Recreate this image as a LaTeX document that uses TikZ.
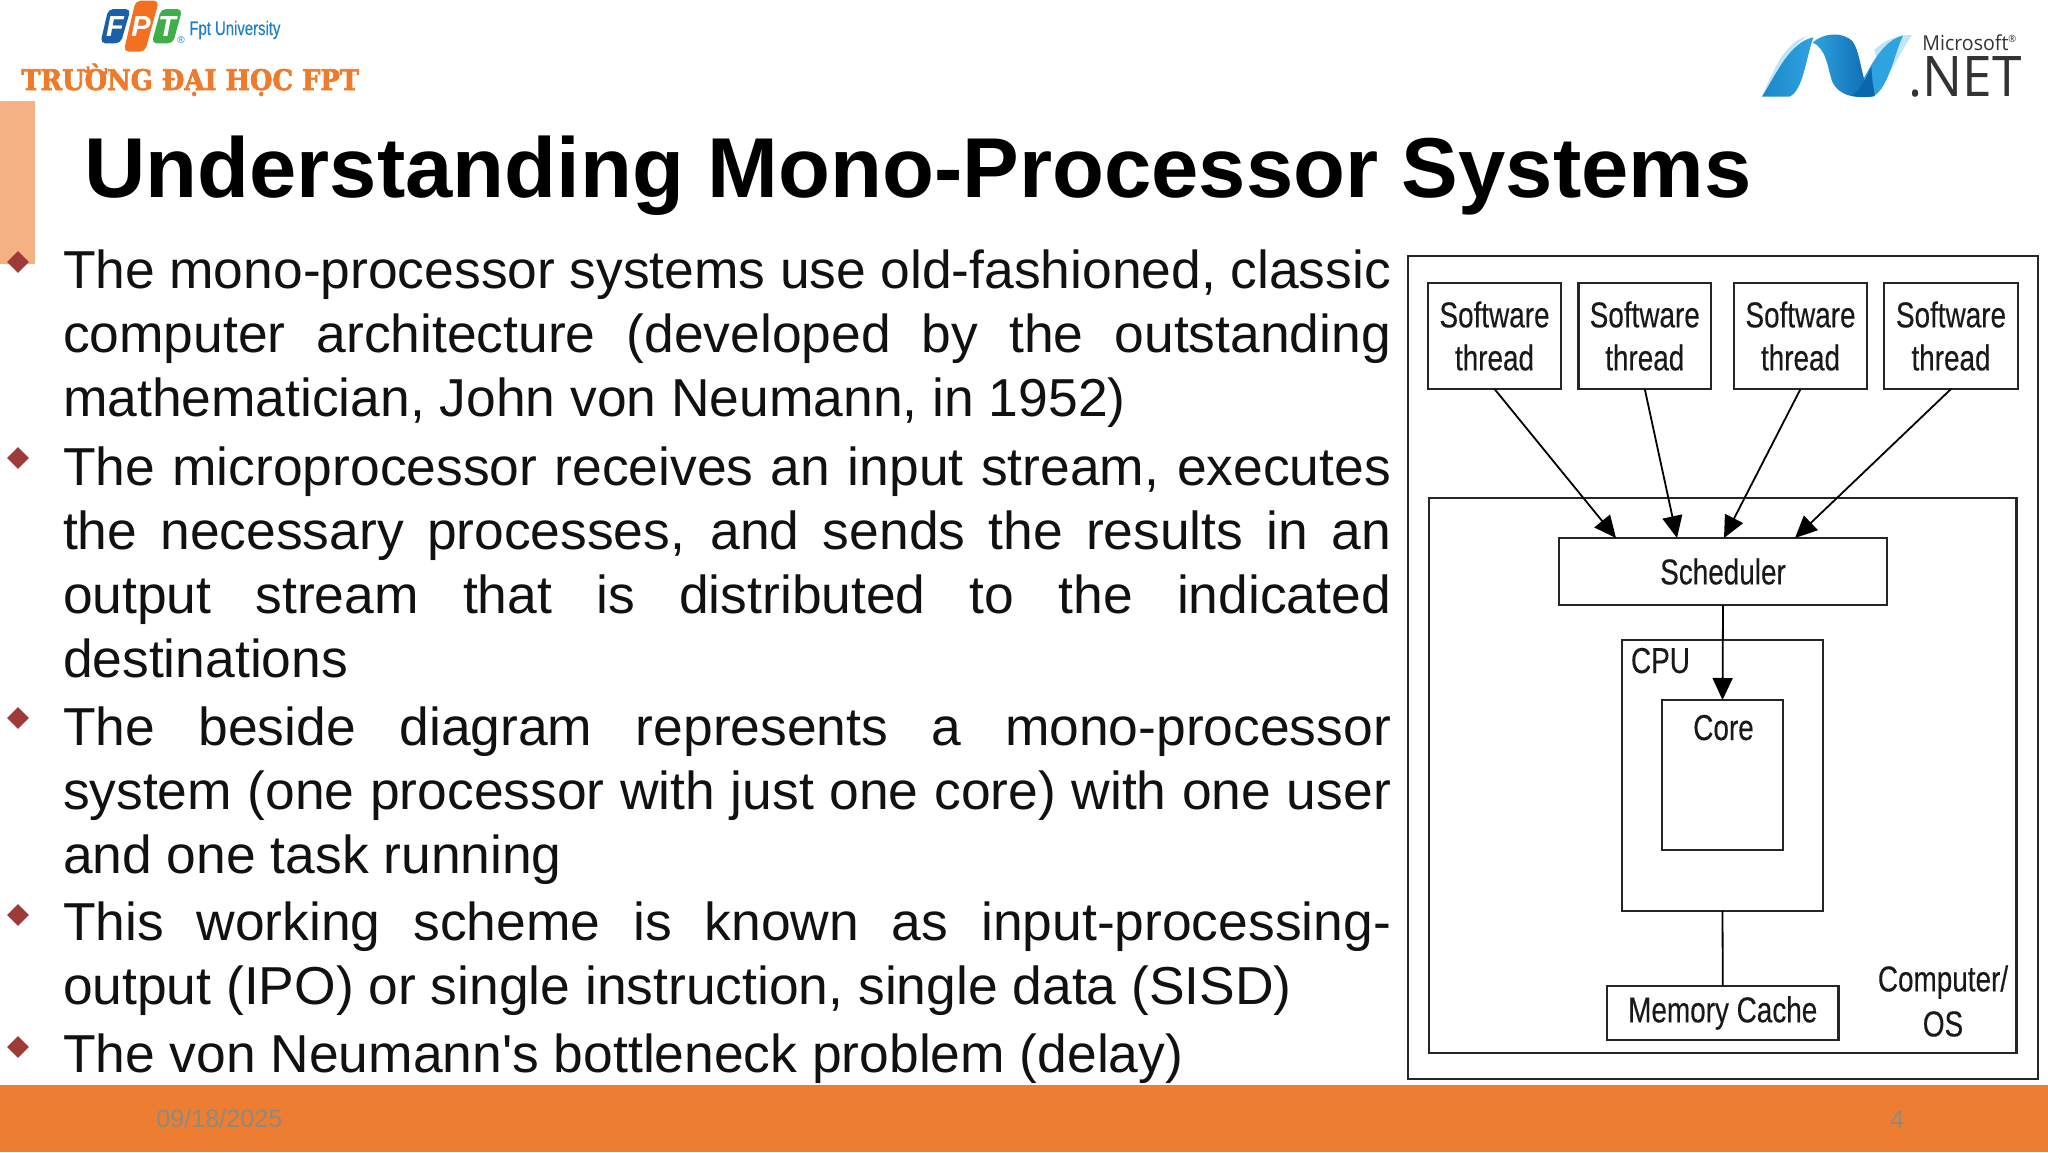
\documentclass[tikz,border=0pt]{standalone}
\usepackage{fontspec}
\setmainfont{Liberation Sans}
\newfontfamily\bodyf{Liberation Sans}
\newfontfamily\narrowf[FakeStretch=0.775,FakeBold=0.25]{Liberation Sans}
\newfontfamily\fptf[FakeStretch=0.76,FakeBold=0.3]{Liberation Sans}
\newfontfamily\slabf[FakeStretch=0.91,BoldFeatures={FakeBold=2.4}]{DejaVu Serif}
\newfontfamily\msf[FakeStretch=0.95]{Open Sans}
\usetikzlibrary{arrows.meta,shapes.geometric}
\definecolor{footerorange}{HTML}{ED7D31}
\definecolor{peach}{HTML}{F4B183}
\definecolor{bulletred}{HTML}{9E3A38}
\definecolor{bodyink}{HTML}{111111}
\definecolor{dateink}{HTML}{8F8A80}
\definecolor{fptblue}{HTML}{1B5FAA}
\definecolor{fptorange}{HTML}{F37021}
\definecolor{fptgreen}{HTML}{3FAE49}
\definecolor{fpttext}{HTML}{1F7FC4}
\definecolor{slaborange}{HTML}{EE7B2C}
\definecolor{netA}{HTML}{1B87C9}
\definecolor{netB}{HTML}{0B66AE}
\definecolor{netC}{HTML}{2FA3DF}
\definecolor{netL}{HTML}{BFE6F7}
\definecolor{netInk}{HTML}{333333}
\tikzset{
  x=0.5pt,y=-0.5pt,
  bodyline/.style={anchor=base west,inner sep=0pt,outer sep=0pt,text=bodyink,font=\bodyf\fontsize{26.7}{30}\selectfont},
  bulletmark/.style={diamond,fill=bulletred,inner sep=0pt,minimum width=11pt,minimum height=11pt},
  box/.style={draw=black!85,line width=1.2pt,fill=white,inner sep=0pt,outer sep=0pt,align=center,text=black!90,
    font=\narrowf\fontsize{18}{21.5}\selectfont},
  wrap/.style={draw=black!85,line width=1.2pt,inner sep=0pt,outer sep=0pt},
  difflabel/.style={inner sep=0pt,outer sep=0pt,text=black!90,align=center,font=\narrowf\fontsize{18}{22.5}\selectfont},
  link/.style={line width=0.9pt,black},
  flow/.style={link,-{Triangle[length=11pt,width=10pt]}},
  flag/.style={rounded corners=2.5pt},
  flagletter/.style={inner sep=0pt,text=white,font=\bfseries\itshape\fontsize{14.5}{15}\selectfont},
}
\newcommand{\fillline}[1]{\makebox[664pt][s]{#1}}
\begin{document}
\begin{tikzpicture}
\useasboundingbox (0,0) rectangle (2048,1152);
\fill[white] (0,0) rectangle (2048,1152);
% footer and side accent
\fill[footerorange] (0,1085) rectangle (2048,1152);
\fill[peach] (0,101) rectangle (35,264);
\node[inner sep=0pt,text=dateink,anchor=base west,font=\fontsize{12.6}{14}\selectfont] (date) at (156,1127) {09/18/2025};
\node[inner sep=0pt,text=dateink,font=\fontsize{12.6}{14}\selectfont] (pageno) at (1897,1120) {4};
% FPT logo
\begin{scope}[scale=0.33333]
\fill[fptblue,flag] (325,27) -- (392,27) -- (362,130) -- (301,130) -- cycle;
\fill[fptorange,flag] (407,2) -- (477,2) -- (435,155) -- (371,155) -- cycle;
\fill[fptgreen,flag] (483,27) -- (547,27) -- (519,130) -- (455,130) -- cycle;
\end{scope}
\node[flagletter] (fl1) at (115,27) {F};
\node[flagletter] (fl2) at (141,27) {P};
\node[flagletter] (fl3) at (167,27) {T};
\node[inner sep=0pt,text=fpttext,anchor=base west,font=\fontsize{5}{6}\selectfont] (reg) at (177,43) {\textregistered};
\node[inner sep=0pt,text=fpttext,anchor=base west,font=\fptf\fontsize{9.8}{12}\selectfont] (fptu) at (189,35) {Fpt University};
\node[inner sep=0pt,text=slaborange,anchor=base west,font=\slabf\bfseries\fontsize{14.2}{16}\selectfont] (truong) at (21,90) {TRƯỜNG ĐẠI HỌC FPT};
% .NET logo
\begin{scope}[shift={(1720,0)},xscale=0.328,yscale=0.3333]
\fill[netL] (470,150) .. controls (500,120) and (540,105) .. (585,105) .. controls (555,150) and (530,200) .. (500,245) -- cycle;
\fill[netC] (400,285) .. controls (440,260) and (470,130) .. (558,106) .. controls (530,165) and (510,280) .. (460,290) -- cycle;
\fill[netL] (128,290) .. controls (170,190) and (205,125) .. (265,108) .. controls (215,140) and (180,210) .. (128,290) -- cycle;
\shade[left color=netA,right color=netC] (128,290) .. controls (175,215) and (215,125) .. (285,112) .. controls (262,170) and (255,270) .. (212,290) -- cycle;
\shade[left color=netC,right color=netB] (282,128) .. controls (312,100) and (372,92) .. (405,125) .. controls (435,170) and (428,262) .. (472,288) .. controls (420,296) and (365,292) .. (342,245) .. controls (328,205) and (325,145) .. (282,128) -- cycle;
\fill[netB] (400,286) .. controls (430,275) and (445,230) .. (462,200) .. controls (462,240) and (470,270) .. (472,288) .. controls (445,292) and (420,292) .. (400,286) -- cycle;
\end{scope}
\node[inner sep=0pt,text=netInk,anchor=base west,font=\msf\fontsize{10.3}{12}\selectfont] (mslabel) at (1922,50) {Microsoft\textsuperscript{\tiny\textregistered}};
\node[inner sep=0pt,text=netInk,anchor=base west,font=\msf\fontsize{28}{30}\selectfont] (netlabel) at (1908,96) {.NET};
% title
\node[anchor=base west,inner sep=0pt,text=black,font=\bodyf\bfseries\fontsize{42.5}{48}\selectfont] (title) at (84,197) {Understanding Mono-Processor Systems};
% bullets
\node[bulletmark] (b1) at (18,262) {};
\node[bulletmark] (b2) at (18,458) {};
\node[bulletmark] (b3) at (18,718) {};
\node[bulletmark] (b4) at (18,915) {};
\node[bulletmark] (b5) at (18,1047) {};
% body
\node[bodyline] (l1) at (63,288) {\fillline{The mono-processor systems use old-fashioned, classic}};
\node[bodyline] (l2) at (63,352) {\fillline{computer architecture (developed by the outstanding}};
\node[bodyline] (l3) at (63,416) {mathematician, John von Neumann, in 1952)};
\node[bodyline] (l4) at (63,485) {\fillline{The microprocessor receives an input stream, executes}};
\node[bodyline] (l5) at (63,549) {\fillline{the necessary processes, and sends the results in an}};
\node[bodyline] (l6) at (63,613) {\fillline{output stream that is distributed to the indicated}};
\node[bodyline] (l7) at (63,677) {destinations};
\node[bodyline] (l8) at (63,745) {\fillline{The beside diagram represents a mono-processor}};
\node[bodyline] (l9) at (63,809) {\fillline{system (one processor with just one core) with one user}};
\node[bodyline] (l10) at (63,873) {and one task running};
\node[bodyline] (l11) at (63,940) {\fillline{This working scheme is known as input-processing-}};
\node[bodyline] (l12) at (63,1004) {output (IPO) or single instruction, single data (SISD)};
\node[bodyline] (l13) at (63,1072) {The von Neumann's bottleneck problem (delay)};
% diagram frames
\node[wrap,minimum width=315pt,minimum height=411.5pt] (outer) at (1723,667.5) {};
\node[wrap,minimum width=293.75pt,minimum height=277.5pt] (computer) at (1722.75,775.5) {};
% threads
\node[box,minimum width=66.5pt,minimum height=53pt] (t1) at (1494.5,336) {Software\\thread};
\node[box,minimum width=66.25pt,minimum height=53pt] (t2) at (1644.75,336) {Software\\thread};
\node[box,minimum width=66.5pt,minimum height=53pt] (t3) at (1800.5,336) {Software\\thread};
\node[box,minimum width=67pt,minimum height=53pt] (t4) at (1951,336) {Software\\thread};
\node[box,minimum width=164pt,minimum height=33.5pt] (sched) at (1723,571.5) {Scheduler};
\node[wrap,fill=white,minimum width=100.5pt,minimum height=135.5pt] (cpu) at (1722.5,775.5) {};
\node[wrap,fill=white,minimum width=60.5pt,minimum height=75pt] (core) at (1722.5,775) {};
\node[box,minimum width=115.75pt,minimum height=27pt] (cache) at (1722.75,1013) {Memory Cache};
\node[difflabel,anchor=base west] (cpulabel) at (1631,673) {CPU};
\node[difflabel,anchor=base] (corelabel) at (1723.5,740) {Core};
\node[difflabel] (oslabel) at (1943,1001) {Computer/\\OS};
% connectors
\coordinate (s1) at (1616,538);
\coordinate (s2) at (1677,538);
\coordinate (s3) at (1724,538);
\coordinate (s4) at (1795,538);
\draw[flow] (t1.south) -- (s1);
\draw[flow] (t2.south) -- (s2);
\draw[flow] (t3.south) -- (s3);
\draw[flow] (t4.south) -- (s4);
\draw[flow] (sched.south) -- (core.north);
\draw[link] (cpu.south) -- (cache.north);
\end{tikzpicture}
\end{document}
